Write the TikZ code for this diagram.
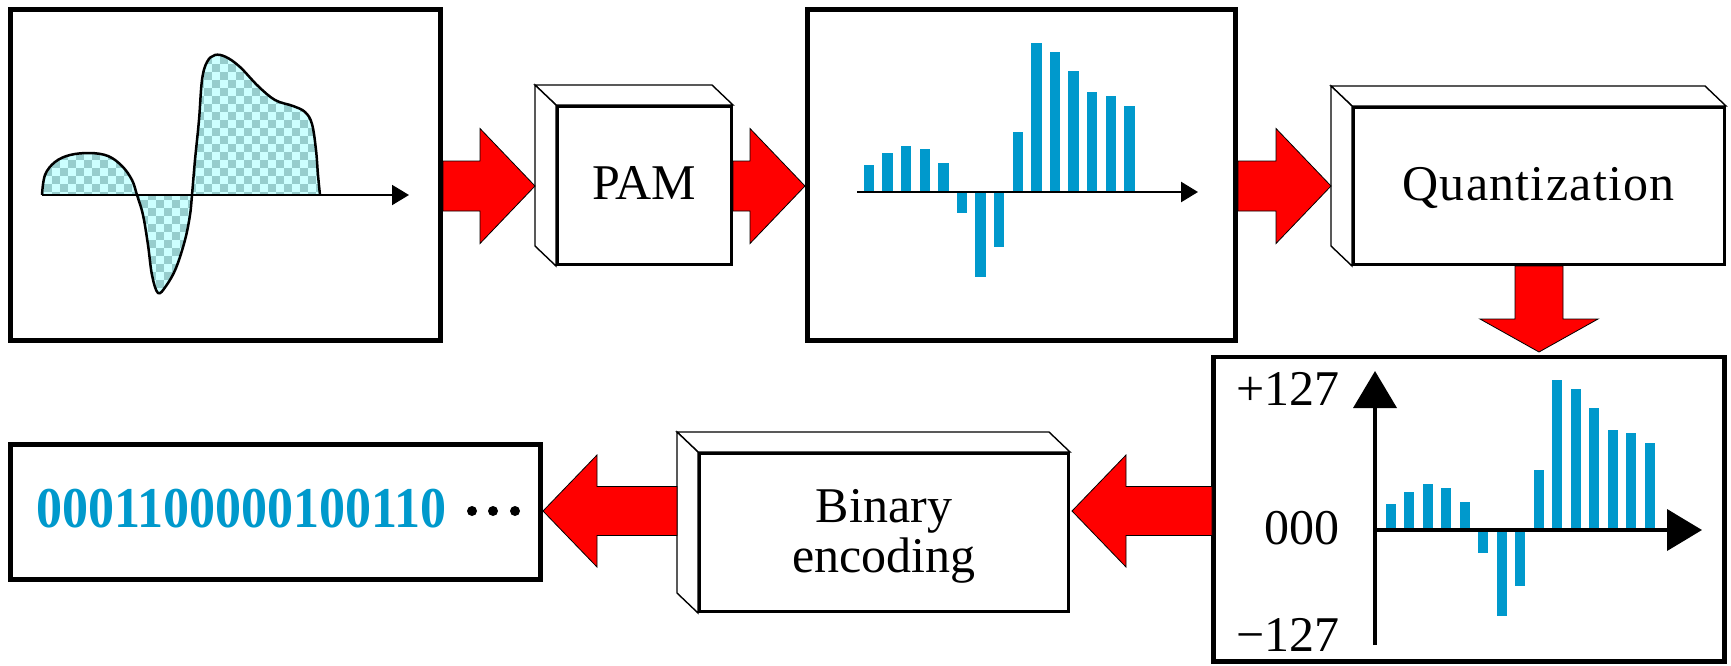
\documentclass[tikz,border=0pt]{standalone}
\usepackage{graphicx}
\usepackage{fontspec}
\setmainfont{Liberation Serif}
\usetikzlibrary{arrows.meta,calc}

\definecolor{barblue}{RGB}{0,153,204}
\definecolor{sigfill}{RGB}{204,255,255}
\definecolor{sigcheck}{RGB}{150,205,205}
\definecolor{arrowred}{RGB}{255,0,0}

% block arrows between two named points: shaft from #1, tip at #2
\newcommand{\rightblock}[2]{%
  \draw[blockarrow] ($(#1)+(0,-25)$) -- ($(#2)+(-55,-25)$) -- ($(#2)+(-55,-57.5)$)
    -- (#2) -- ($(#2)+(-55,57.5)$) -- ($(#2)+(-55,25)$) -- ($(#1)+(0,25)$) -- cycle;}
\newcommand{\leftblock}[2]{%
  \draw[blockarrow] ($(#1)+(0,-24.5)$) -- ($(#2)+(54,-24.5)$) -- ($(#2)+(54,-56)$)
    -- (#2) -- ($(#2)+(54,56)$) -- ($(#2)+(54,24.5)$) -- ($(#1)+(0,24.5)$) -- cycle;}
% slab box: top and left faces behind the front face node #1
\newcommand{\slabsides}[1]{%
  \draw[side] (#1.north west) -- ($(#1.north west)+(-21,-20)$)
    -- ($(#1.north east)+(-21,-20)$) -- (#1.north east) -- cycle;
  \draw[side] (#1.north west) -- ($(#1.north west)+(-21,-20)$)
    -- ($(#1.south west)+(-21,-20)$) -- (#1.south west) -- cycle;}

\begin{document}
\begin{tikzpicture}[x=1pt,y=-1pt,
  panel/.style={draw=black,line width=4.5pt,fill=white,inner sep=0pt,rectangle},
  face/.style={draw=black,line width=3pt,fill=white,inner sep=0pt,rectangle},
  side/.style={draw=black,line width=1.4pt,fill=white,line join=miter},
  blockarrow/.style={fill=arrowred,draw=black,line width=0.8pt,line join=miter},
  bar/.style={fill=barblue},
  label/.style={font=\fontsize{50}{50}\selectfont,inner sep=0pt},
]
\useasboundingbox (0,0) rectangle (1731,665);

% ---------- panels ----------
\node[panel,minimum width=430pt,minimum height=331pt] (analog) at (225.5,175) {};
\node[panel,minimum width=428pt,minimum height=331pt] (sampled) at (1021.5,175) {};
\node[panel,minimum width=511pt,minimum height=304.5pt] (quantized) at (1469,509.25) {};
\node[panel,minimum width=530pt,minimum height=135pt] (bits) at (275.5,512) {};

% ---------- analog signal ----------
\begin{scope}
  \clip plot[smooth,tension=0.6] coordinates {(42,195) (45,175) (55,162) (70,155) (90,153)
    (108,156) (122,166) (132,180) (137,195) (143,215) (148,245) (152,275) (158,293)
    (166,286) (176,268) (185,240) (190,215) (192,195) (195,160) (199,120) (202,80)
    (207,62) (215,55) (226,57) (240,67) (258,86) (275,100) (293,106) (305,112)
    (312,124) (316,150) (318,175) (320,195)} -- cycle;
  \fill[sigfill] (30,40) rectangle (335,320);
  \foreach \i in {0,2,...,36} \foreach \j in {0,2,...,32} {
    \fill[sigcheck] (36+8*\i,48+8*\j) rectangle ++(8,8);
    \fill[sigcheck] (44+8*\i,56+8*\j) rectangle ++(8,8);
  }
\end{scope}
\draw[line width=2.5pt,line join=round] plot[smooth,tension=0.6] coordinates {(42,195) (45,175) (55,162) (70,155) (90,153)
    (108,156) (122,166) (132,180) (137,195) (143,215) (148,245) (152,275) (158,293)
    (166,286) (176,268) (185,240) (190,215) (192,195) (195,160) (199,120) (202,80)
    (207,62) (215,55) (226,57) (240,67) (258,86) (275,100) (293,106) (305,112)
    (312,124) (316,150) (318,175) (320,195)};
\coordinate (t1a) at (42,195);
\coordinate (t1b) at (409,195);
\draw[line width=2pt,-{Triangle[length=17pt,width=20pt]}] (t1a) -- (t1b);

% ---------- sampled pulses ----------
\foreach \h [count=\k] in {27,39,46,43,29,-21,-85,-55,60,149,140,121,100,96,86}
  \fill[bar] (869+18.6*\k-18.6-5.25,192) rectangle ++(10.5,{-(\h)});
\coordinate (t2a) at (857,192);
\coordinate (t2b) at (1198,192);
\draw[line width=2.5pt,-{Triangle[length=17pt,width=20pt]}] (t2a) -- (t2b);

% ---------- quantized pulses ----------
\foreach \h [count=\k] in {26,38,46,42,28,-23,-86,-56,60,150,141,122,100,97,87}
  \fill[bar] (1390.6+18.5*\k-18.5-5,530) rectangle ++(10,{-(\h)});
\coordinate (qo) at (1375,530);
\coordinate (qy0) at (1375,645);
\coordinate (qy1) at (1375,371);
\coordinate (qx1) at (1702,530);
\draw[line width=4pt,-{Triangle[length=37pt,width=43pt]}] (qy0) -- (qy1);
\draw[line width=4pt,-{Triangle[length=35pt,width=41pt]}] (qo) -- (qx1);
\node[label,anchor=base east] (lvtop) at (1340,405) {+127};
\node[label,anchor=base east] (lvmid) at (1340,544) {000};
\node[label,anchor=base east] (lvbot) at (1340,651) {−127};

% ---------- code word ----------
\node[inner sep=0pt,anchor=base west,text=barblue,
      font=\fontsize{52}{52}\selectfont\bfseries] (code) at (36,527)
      {\scalebox{1}[1.11]{0001100000100110}};
\foreach \x in {472,493,515} \fill (\x,511) circle (5);

% ---------- slab boxes ----------
\node[face,minimum width=174pt,minimum height=158pt] (pam) at (644.5,185.5) {};
\node[face,minimum width=371pt,minimum height=157pt] (quant) at (1539,186) {};
\node[face,minimum width=369pt,minimum height=158pt] (enc) at (884,532.5) {};
\slabsides{pam}
\slabsides{quant}
\slabsides{enc}
\node[face,minimum width=174pt,minimum height=158pt] at (pam) {};
\node[face,minimum width=371pt,minimum height=157pt] at (quant) {};
\node[face,minimum width=369pt,minimum height=158pt] at (enc) {};
\node[label,anchor=base] (pamtext) at (644.5,199) {PAM};
\node[label,anchor=base] (quanttext) at (1538.5,200)
  {\addfontfeatures{LetterSpace=2.5}Quantization};
\node[label,anchor=base] (enctext1) at (884,522) {Binary};
\node[label,anchor=base] (enctext2) at (884,572) {encoding};

% ---------- block arrows ----------
\coordinate (a1s) at (443,186);  \coordinate (a1t) at (535,186);
\coordinate (a2s) at (733,186);  \coordinate (a2t) at (805,186);
\coordinate (a3s) at (1238,186); \coordinate (a3t) at (1331,186);
\coordinate (a5s) at (1212,511); \coordinate (a5t) at (1072,511);
\coordinate (a6s) at (677,511);  \coordinate (a6t) at (543,511);
\rightblock{a1s}{a1t}
\rightblock{a2s}{a2t}
\rightblock{a3s}{a3t}
\leftblock{a5s}{a5t}
\leftblock{a6s}{a6t}
\coordinate (a4s) at (1539,266); \coordinate (a4t) at (1539,352);
\draw[blockarrow] ($(a4s)+(-24,0)$) -- ($(a4t)+(-24,-33)$) -- ($(a4t)+(-59,-33)$)
  -- (a4t) -- ($(a4t)+(59,-33)$) -- ($(a4t)+(24,-33)$) -- ($(a4s)+(24,0)$) -- cycle;
\end{tikzpicture}
\end{document}
